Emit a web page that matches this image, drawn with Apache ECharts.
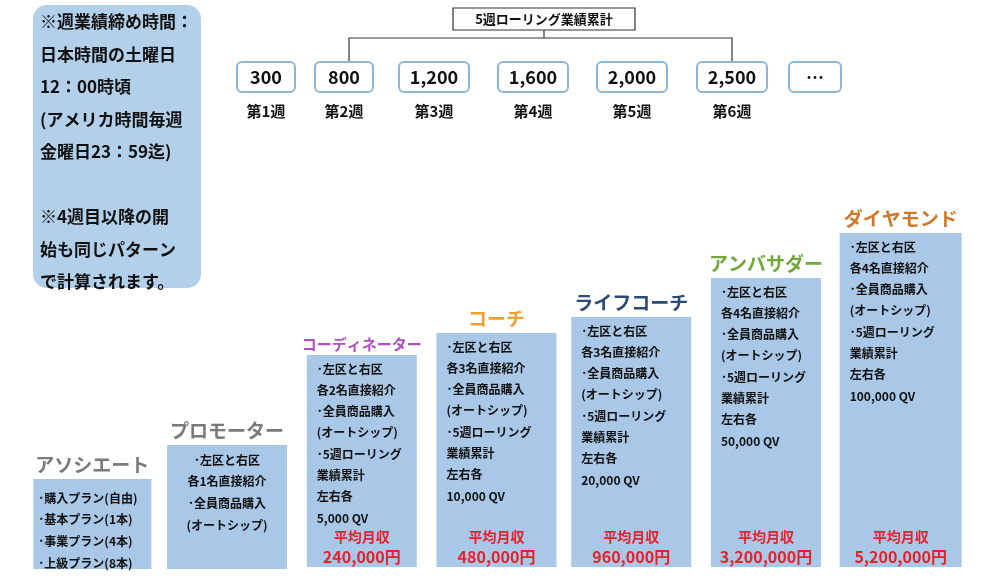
<!DOCTYPE html><html><head><meta charset="utf-8">
<script src="https://cdn.jsdelivr.net/npm/echarts@6/dist/echarts.min.js"></script>
<style>html,body{margin:0;background:#fff}#c{width:998px;height:578px}</style></head><body><div id="c"></div>
<script>
const ranks=['アソシエート','プロモーター','コーディネーター','コーチ','ライフコーチ','アンバサダー','ダイヤモンド'];
const boxTop=[99,133,223,245,261,300,345];
const boxBottom=[9,9,11,11,11,11,11];
const rankColors=['#7a7a7a','#7a7a7a','#b050c0','#f0a030','#2c4a78','#70a838','#d07828'];
const conditions=[
 ['･購入プラン(自由)','･基本プラン(1本)','･事業プラン(4本)','･上級プラン(8本)'],
 ['･左区と右区','各1名直接紹介','･全員商品購入','(オートシップ)'],
 ['･左区と右区','各2名直接紹介','･全員商品購入','(オートシップ)','･5週ローリング','業績累計','左右各','5,000 QV'],
 ['･左区と右区','各3名直接紹介','･全員商品購入','(オートシップ)','･5週ローリング','業績累計','左右各','10,000 QV'],
 ['･左区と右区','各3名直接紹介','･全員商品購入','(オートシップ)','･5週ローリング','業績累計','左右各','20,000 QV'],
 ['･左区と右区','各4名直接紹介','･全員商品購入','(オートシップ)','･5週ローリング','業績累計','左右各','50,000 QV'],
 ['･左区と右区','各4名直接紹介','･全員商品購入','(オートシップ)','･5週ローリング','業績累計','左右各','100,000 QV']];
const income=['','','240,000円','480,000円','960,000円','3,200,000円','5,200,000円'];
const weekValues=['300','800','1,200','1,600','2,000','2,500','…'];
const weekLabels=['第1週','第2週','第3週','第4週','第5週','第6週',''];
const noteLines=['※週業績締め時間：','日本時間の土曜日','12：00時頃','(アメリカ時間毎週','金曜日23：59迄)','','※4週目以降の開','始も同じパターン','で計算されます。'];
const F='"Noto Sans CJK JP",sans-serif';
const weekX=[266,344,434,533,632,732,815],weekW=[58,58,70,70,70,70,52];
const g=[];
g.push({type:'rect',shape:{x:33,y:5,width:168,height:283,r:14},style:{fill:'#b3d0ea'}});
noteLines.forEach((t,i)=>g.push({type:'text',style:{x:40,y:22+i*32.5,text:t,font:'bold 17px '+F,fill:'#111',verticalAlign:'middle'}}));
g.push({type:'rect',shape:{x:453,y:8,width:182,height:22},style:{fill:'#fff',stroke:'#333',lineWidth:1.2}});
g.push({type:'text',style:{x:544,y:19,text:'5週ローリング業績累計',font:'bold 13px '+F,fill:'#111',align:'center',verticalAlign:'middle'}});
g.push({type:'polyline',shape:{points:[[349,62],[349,38],[732,38],[732,62]]},style:{stroke:'#333',lineWidth:1.2,fill:null}});
g.push({type:'line',shape:{x1:544,y1:30,x2:544,y2:38},style:{stroke:'#333',lineWidth:1.2}});
weekValues.forEach((v,i)=>{
 g.push({type:'rect',shape:{x:weekX[i]-weekW[i]/2,y:62,width:weekW[i],height:30,r:5},style:{fill:'#fff',stroke:'#8fb4d6',lineWidth:2}});
 g.push({type:'text',style:{x:weekX[i],y:77,text:v,font:'bold 18px '+F,fill:'#111',align:'center',verticalAlign:'middle'}});
 if(weekLabels[i])g.push({type:'text',style:{x:weekX[i],y:111,text:weekLabels[i],font:'bold 15px '+F,fill:'#111',align:'center',verticalAlign:'middle'}});
});
const chart=echarts.init(document.getElementById('c'));
chart.setOption({animation:false,
 grid:{left:25,right:30,top:0,bottom:0},
 xAxis:{type:'category',data:ranks,show:false},
 yAxis:{type:'value',min:0,max:578,show:false},
 graphic:g,
 series:[{type:'custom',data:ranks.map((r,i)=>[i,boxBottom[i],boxTop[i]]),
  renderItem:(p,api)=>{
   const i=api.value(0);
   const top=api.coord([i,api.value(2)]),bot=api.coord([i,api.value(1)]);
   const w=[118,120,110,120,120,110,122][i];
   const x=top[0]-w/2;
   const ch=[{type:'rect',shape:{x:x,y:top[1],width:w,height:bot[1]-top[1]},style:{fill:'#a9c7e6'}},
    {type:'text',style:{x:top[0],y:top[1]-(i===2?11:14),text:ranks[i],font:'bold '+(i===2?15:19)+'px '+F,fill:rankColors[i],align:'center',verticalAlign:'middle'}}];
   const lines=conditions[i];
   const center=i===1;
   const lh=i<2?21.7:21.3;
   const start=i===0?19:(i===1?15:14);
   lines.forEach((t,k)=>ch.push({type:'text',style:{x:center?top[0]:x+(i===0?5:10),y:top[1]+start+k*lh,text:t,font:'bold 12px '+F,fill:'#111',align:center?'center':'left',verticalAlign:'middle'}}));
   if(income[i]){
    ch.push({type:'text',style:{x:top[0],y:bot[1]-30,text:'平均月収',font:'bold 14px '+F,fill:'#e8202a',align:'center',verticalAlign:'middle'}});
    ch.push({type:'text',style:{x:top[0],y:bot[1]-10,text:income[i],font:'bold 16px '+F,fill:'#e8202a',align:'center',verticalAlign:'middle'}});
   }
   return {type:'group',children:ch};
  }}]
});
</script></body></html>
